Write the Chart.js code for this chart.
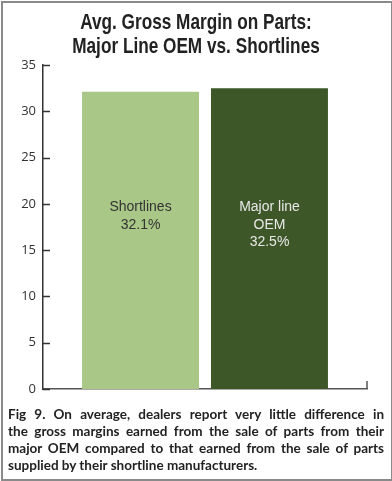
<!DOCTYPE html>
<html>
<head>
<meta charset="utf-8">
<script src="https://cdn.jsdelivr.net/npm/chart.js@4/dist/chart.umd.min.js"></script>
<style>
  html, body { margin: 0; padding: 0; background: #fff; }
  #wrap { position: relative; width: 392px; height: 481px; overflow: hidden; }
  #frame { position: absolute; left: 1px; top: 1px; width: 388px; height: 476px; border: 2px solid #8a8a8a; box-sizing: content-box; }
  canvas { position: absolute; left: 0; top: 0; }
  #title { position: absolute; left: 0; top: 10px; width: 392px; text-align: center;
           font-family: "Liberation Sans", Arial, sans-serif;
           font-weight: bold; font-size: 21.5px; line-height: 24px; color: #222;
           transform: scaleX(0.8); transform-origin: 196px 0; }
  #caption { position: absolute; left: 8px; top: 406px; width: 376px;
             font-family: Lato, "Open Sans", sans-serif; font-weight: bold; font-size: 13.5px;
             line-height: 17px; color: #222; }
  #caption div { text-align: justify; text-align-last: justify; white-space: nowrap; }
  #caption div.last { text-align-last: left; }
</style>
</head>
<body>
<div id="wrap">
  <canvas id="c" width="392" height="481"></canvas>
  <div id="title">Avg. Gross Margin on Parts:<br>Major Line OEM vs. Shortlines</div>
  <div id="caption">
    <div>Fig 9. On average, dealers report very little difference in</div>
    <div>the gross margins earned from the sale of parts from their</div>
    <div>major OEM compared to that earned from the sale of parts</div>
    <div class="last">supplied by their shortline manufacturers.</div>
  </div>
  <div id="frame"></div>
</div>
<script>
const categories = ['Shortlines', 'Major line OEM'];
const labelLines = [['Shortlines'], ['Major line', 'OEM']];
const values = [32.1, 32.5];
const barColors = ['#a9c787', '#3e5728'];
const textColors = ['#333333', '#e8e8e8'];
const yMin = 0, yMax = 35, yStep = 5;

const datasets = categories.map((c, i) => ({
  label: c,
  data: [values[i]],
  backgroundColor: barColors[i],
  borderWidth: 0,
  categoryPercentage: 0.796,
  barPercentage: 0.907
}));

const decor = {
  id: 'decor',
  afterDatasetsDraw(chart) {
    const ctx = chart.ctx;
    const ys = chart.scales.y;
    ctx.save();
    ctx.font = '14px "Liberation Sans", Arial, sans-serif';
    ctx.textAlign = 'center';
    ctx.textBaseline = 'middle';
    chart.data.datasets.forEach((ds, i) => {
      const bar = chart.getDatasetMeta(i).data[0];
      const lines = labelLines[i].concat([values[i].toFixed(1) + '%']);
      const y0 = ys.getPixelForValue(19.6);
      ctx.fillStyle = textColors[i];
      lines.forEach((t, k) => ctx.fillText(t, bar.x, y0 + k * 17.5));
    });
    ctx.restore();
  },
  afterDraw(chart) {
    const ctx = chart.ctx;
    const ys = chart.scales.y;
    const a = chart.chartArea;
    ctx.save();
    ctx.strokeStyle = '#333';
    ctx.lineWidth = 1.5;
    ys.ticks.forEach(t => {
      const y = Math.round(ys.getPixelForValue(t.value)) + 0.5;
      ctx.beginPath();
      ctx.moveTo(a.left, y);
      ctx.lineTo(a.left + 7, y);
      ctx.stroke();
    });
    ctx.strokeStyle = '#555';
    ctx.beginPath();
    ctx.moveTo(a.right, a.bottom);
    ctx.lineTo(a.right, a.bottom - 8);
    ctx.stroke();
    ctx.restore();
  }
};

new Chart(document.getElementById('c'), {
  type: 'bar',
  data: { labels: [''], datasets },
  options: {
    responsive: false,
    devicePixelRatio: 1,
    animation: false,
    layout: { padding: { top: 65, bottom: 92, left: 0, right: 25 } },
    plugins: { legend: { display: false }, tooltip: { enabled: false }, title: { display: false } },
    scales: {
      x: {
        offset: true,
        grid: { display: false, drawTicks: false },
        border: { display: true, color: '#555', width: 1.5 },
        ticks: { display: false },
        afterFit: s => { s.height = 0; }
      },
      y: {
        min: yMin, max: yMax,
        grid: { display: false, drawTicks: false },
        border: { display: true, color: '#333', width: 1.5 },
        ticks: { stepSize: yStep, padding: 7, color: '#333',
                 font: { family: '"Open Sans", sans-serif', size: 13 } },
        afterFit: s => { s.width = 43; }
      }
    }
  },
  plugins: [decor]
});
</script>
</body>
</html>
